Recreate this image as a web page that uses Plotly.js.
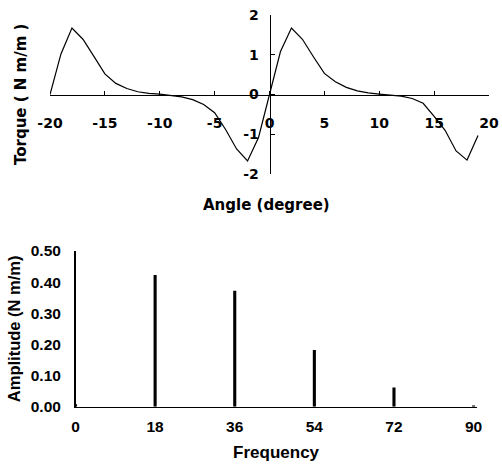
<!DOCTYPE html>
<html>
<head>
<meta charset="utf-8">
<script src="https://cdn.plot.ly/plotly-3.0.1.min.js"></script>
<style>html,body{margin:0;padding:0;background:#fff}#chart{width:502px;height:464px}</style>
</head>
<body>
<div id="chart"></div>
<script>
// Top chart: cogging torque vs rotor angle
const angle = [-20,-19,-18,-17,-16,-15,-14,-13,-12,-11,-10,-9,-8,-7,-6,-5,-4,-3,-2,-1,
               0,1,2,3,4,5,6,7,8,9,10,11,12,13,14,15,16,17,18,19];
const torque = [0,1.02,1.67,1.39,0.96,0.52,0.28,0.15,0.07,0.03,0.01,-0.02,-0.06,-0.13,-0.25,-0.46,-0.88,-1.37,-1.67,-1.08,
                0,1.08,1.67,1.39,0.95,0.53,0.32,0.18,0.09,0.04,0.01,-0.01,-0.04,-0.1,-0.22,-0.55,-0.9,-1.42,-1.65,-1.03];
const xTicksTop = [-20,-15,-10,-5,0,5,10,15,20];
const yTicksTop = [-2,-1,0,1,2];

// Bottom chart: harmonic spectrum
const frequency = [0,18,36,54,72,90];
const amplitude = [0.008,0.423,0.372,0.182,0.062,0.004];
const xTicksBot = [0,18,36,54,72,90];
const yTicksBot = [0,0.1,0.2,0.3,0.4,0.5];
const yTickTextBot = ['0.00','0.10','0.20','0.30','0.40','0.50'];

const W = 502, H = 464;
const px = v => v / W;
const py = v => (H - v) / H;

const topFont = {family: 'DejaVu Sans', size: 14, color: '#000', weight: 'bold'};
const botFont = {family: 'Liberation Sans, Arial', size: 15.5, color: '#000', weight: 'bold'};

const traces = [
  {x: angle, y: torque, type: 'scatter', mode: 'lines', xaxis: 'x', yaxis: 'y',
   line: {color: '#000', width: 1.2}, hoverinfo: 'skip'},
  {x: frequency, y: amplitude, type: 'bar', xaxis: 'x2', yaxis: 'y2',
   width: 0.7, marker: {color: '#000', line: {width: 0}}, hoverinfo: 'skip'}
];

const layout = {
  width: W, height: H,
  margin: {l: 0, r: 0, t: 0, b: 0},
  paper_bgcolor: '#fff', plot_bgcolor: 'rgba(0,0,0,0)',
  showlegend: false,
  xaxis: {
    domain: [px(50), px(489)], range: [-20, 20],
    anchor: 'free', position: py(95),
    showline: true, linecolor: '#000', linewidth: 1,
    showgrid: false, zeroline: false,
    tickvals: xTicksTop, ticktext: xTicksTop.map(String),
    ticks: 'inside', ticklen: 4, tickcolor: '#000', tickwidth: 1,
    ticklabelstandoff: 15,
    tickfont: topFont
  },
  yaxis: {
    domain: [py(174), py(15)], range: [-2, 2],
    anchor: 'free', position: px(269.5),
    showline: true, linecolor: '#000', linewidth: 1,
    showgrid: false, zeroline: false,
    tickvals: yTicksTop, ticktext: yTicksTop.map(String),
    ticks: 'inside', ticklen: 4, tickcolor: '#000', tickwidth: 1,
    ticklabelstandoff: 8,
    tickfont: topFont
  },
  xaxis2: {
    domain: [px(75.5), px(476.7)], range: [0, 90.7],
    anchor: 'y2',
    showline: true, linecolor: '#000', linewidth: 1.5,
    showgrid: false, zeroline: false,
    tickvals: xTicksBot, ticktext: xTicksBot.map(String),
    ticks: '', ticklabelstandoff: 5,
    tickfont: botFont,
    title: {text: 'Frequency', font: {family: 'Liberation Sans, Arial', size: 17, color: '#000', weight: 'bold'}, standoff: 12}
  },
  yaxis2: {
    domain: [py(406.7), py(251)], range: [0, 0.5],
    anchor: 'x2',
    showline: true, linecolor: '#000', linewidth: 1.5,
    showgrid: false, zeroline: false,
    tickvals: yTicksBot, ticktext: yTickTextBot,
    ticks: '', ticklabelstandoff: 10,
    tickfont: botFont,
    title: {text: 'Amplitude (N m/m)', font: {family: 'Liberation Sans, Arial', size: 16.5, color: '#000', weight: 'bold'}, standoff: 6}
  },
  annotations: [
    {text: 'Torque ( N m/m )', xref: 'paper', yref: 'paper', x: px(21), y: py(95),
     textangle: -90, showarrow: false, xanchor: 'center', yanchor: 'middle',
     font: {family: 'DejaVu Sans', size: 15, color: '#000', weight: 'bold'}},
    {text: 'Angle (degree)', xref: 'paper', yref: 'paper', x: px(266), y: py(205),
     showarrow: false, xanchor: 'center', yanchor: 'middle',
     font: {family: 'DejaVu Sans', size: 15, color: '#000', weight: 'bold'}}
  ]
};

Plotly.newPlot('chart', traces, layout, {staticPlot: true, displayModeBar: false});
</script>
</body>
</html>
